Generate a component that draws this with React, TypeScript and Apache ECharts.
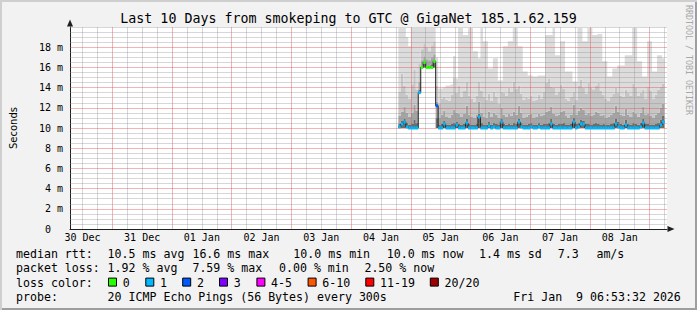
import React, { useEffect, useRef } from 'react';
import * as echarts from 'echarts';

const TITLE = 'Last 10 Days from smokeping to GTC @ GigaNet 185.1.62.159';
const AXIS_START_HOUR = 7; // hours after 30 Dec 00:00
const AXIS_END_HOUR = 247;
const DATA_START_HOUR = 139;
const DAY_LABELS = ['30 Dec', '31 Dec', '01 Jan', '02 Jan', '03 Jan', '04 Jan', '05 Jan', '06 Jan', '07 Jan', '08 Jan'];

const MEDIAN = [
  10.1, 10.4, 10.6, 10.1, 10.0, 10.0, 10.0, 10.0, 13.5, 16.0,
  16.5, 16.0, 16.0, 16.0, 16.6, 12.2, 10.0, 10.0, 10.4, 10.0,
  10.0, 10.0, 10.0, 10.3, 10.0, 10.0, 10.0, 10.5, 10.0, 10.0,
  10.0, 10.0, 11.1, 10.0, 10.0, 10.0, 10.2, 10.0, 10.1, 10.0,
  10.0, 10.6, 10.0, 10.0, 10.0, 10.0, 10.0, 10.0, 10.6, 10.1,
  10.0, 10.0, 10.0, 10.1, 10.0, 10.0, 10.1, 10.0, 10.0, 10.0,
  10.0, 10.4, 10.0, 10.0, 10.0, 10.0, 10.0, 10.0, 10.0, 10.0,
  10.6, 10.0, 10.1, 10.4, 10.4, 10.0, 10.0, 10.0, 10.0, 10.0,
  10.0, 10.0, 10.0, 10.0, 10.0, 10.0, 10.0, 10.4, 10.1, 10.0,
  10.0, 10.3, 10.0, 10.0, 10.0, 10.0, 10.0, 10.1, 10.5, 10.0,
  10.0, 10.0, 10.0, 10.0, 10.0, 10.3, 10.6,
];

const LOSS_BIN = [
  1, 1, 1, 1, 1, 1, 1, 1, 1, 0,
  0, 0, 0, 0, 0, 2, 1, 1, 1, 1,
  1, 1, 1, 1, 1, 1, 1, 1, 1, 1,
  1, 1, 1, 1, 1, 1, 1, 1, 1, 1,
  1, 1, 1, 1, 1, 1, 1, 1, 1, 1,
  1, 1, 1, 1, 1, 1, 1, 1, 1, 1,
  1, 1, 1, 1, 1, 1, 1, 1, 1, 1,
  1, 1, 1, 1, 1, 1, 1, 1, 1, 1,
  1, 1, 1, 1, 1, 1, 1, 1, 1, 1,
  1, 1, 1, 1, 1, 1, 1, 1, 1, 1,
  1, 1, 1, 1, 1, 1, 1,
];

const SMOKE_MIN = [
  10.0, 10.0, 10.0, 10.0, 10.0, 10.0, 10.0, 10.0, 13.5, 16.0,
  16.0, 16.0, 16.0, 16.0, 16.0, 10.0, 10.0, 10.0, 10.0, 10.0,
  10.0, 10.0, 10.0, 10.0, 10.0, 10.0, 10.0, 10.0, 10.0, 10.0,
  10.0, 10.0, 10.0, 10.0, 10.0, 10.0, 10.0, 10.0, 10.0, 10.0,
  10.0, 10.0, 10.0, 10.0, 10.0, 10.0, 10.0, 10.0, 10.0, 10.0,
  10.0, 10.0, 10.0, 10.0, 10.0, 10.0, 10.0, 10.0, 10.0, 10.0,
  10.0, 10.0, 10.0, 10.0, 10.0, 10.0, 10.0, 10.0, 10.0, 10.0,
  10.0, 10.0, 10.0, 10.0, 10.0, 10.0, 10.0, 10.0, 10.0, 10.0,
  10.0, 10.0, 10.0, 10.0, 10.0, 10.0, 10.0, 10.0, 10.0, 10.0,
  10.0, 10.0, 10.0, 10.0, 10.0, 10.0, 10.0, 10.0, 10.0, 10.0,
  10.0, 10.0, 10.0, 10.0, 10.0, 10.0, 10.0,
];

const SMOKE_DARK = [
  10.4, 10.7, 10.9, 10.5, 10.3, 10.4, 10.8, 10.5, 13.8, 16.2,
  16.4, 16.2, 16.2, 16.3, 16.5, 11.0, 10.3, 10.4, 10.7, 10.3,
  10.3, 10.4, 10.5, 10.6, 10.4, 10.3, 10.4, 10.9, 10.4, 10.3,
  10.3, 10.4, 11.4, 10.5, 10.3, 10.3, 10.6, 10.3, 10.5, 10.4,
  10.3, 10.9, 10.4, 10.3, 10.4, 10.3, 10.5, 10.4, 10.9, 10.5,
  10.3, 10.3, 10.4, 10.5, 10.3, 10.3, 10.5, 10.3, 10.4, 10.4,
  10.5, 10.9, 10.4, 10.3, 10.4, 10.4, 10.5, 10.3, 10.3, 10.4,
  11.0, 10.4, 10.5, 10.8, 10.7, 10.4, 10.4, 10.3, 10.4, 10.5,
  10.4, 10.3, 10.4, 10.3, 10.3, 10.4, 10.5, 10.9, 10.6, 10.4,
  10.3, 10.8, 10.4, 10.3, 10.5, 10.4, 10.3, 10.5, 10.9, 10.4,
  10.4, 10.3, 10.3, 10.4, 10.5, 10.8, 11.2,
];

const SMOKE_MID = [
  11.2, 11.6, 12.1, 11.5, 11.1, 11.5, 12.3, 11.7, 14.6, 16.7,
  17.1, 16.8, 16.7, 17.0, 17.3, 12.6, 11.0, 11.3, 11.7, 11.1,
  11.0, 11.3, 11.8, 11.5, 11.4, 11.1, 11.4, 12.2, 11.3, 11.1,
  11.0, 11.3, 12.6, 11.5, 11.1, 11.0, 11.6, 11.1, 11.5, 11.3,
  11.0, 12.0, 11.3, 11.1, 11.4, 11.2, 11.6, 11.3, 12.2, 11.5,
  11.0, 11.1, 11.3, 11.4, 11.0, 11.1, 11.4, 11.2, 11.3, 11.6,
  11.7, 12.1, 11.4, 11.2, 11.3, 11.6, 11.7, 11.2, 11.0, 11.3,
  12.3, 11.3, 11.7, 12.0, 11.8, 11.3, 11.5, 11.2, 11.3, 11.6,
  11.5, 11.2, 11.3, 11.0, 11.1, 11.3, 11.5, 12.2, 11.6, 11.3,
  11.2, 11.9, 11.3, 11.1, 11.6, 11.4, 11.1, 11.5, 12.1, 11.3,
  11.4, 11.2, 11.0, 11.3, 11.5, 12.0, 12.4,
];

const SMOKE_LIGHT = [
  13.6, 15.4, 14.2, 13.3, 12.9, 14.3, 15.8, 13.8, 16.4, 17.8,
  18.4, 18.0, 17.6, 18.2, 18.6, 14.2, 12.4, 12.9, 13.1, 12.8,
  12.7, 13.3, 15.0, 13.5, 14.2, 13.1, 13.7, 14.6, 13.2, 12.9,
  12.6, 13.2, 14.6, 13.7, 13.1, 12.8, 13.4, 12.7, 13.6, 13.1,
  12.4, 13.6, 13.5, 13.2, 14.0, 13.6, 14.6, 13.9, 14.2, 13.4,
  12.8, 13.1, 12.9, 13.2, 12.7, 12.8, 13.3, 12.9, 13.6, 14.5,
  14.9, 14.1, 14.0, 13.3, 13.6, 14.3, 13.9, 12.9, 12.7, 13.1,
  13.6, 12.8, 14.2, 14.8, 14.0, 13.4, 14.5, 14.0, 13.8, 14.2,
  14.5, 13.7, 13.3, 12.9, 12.7, 13.1, 13.4, 14.0, 13.5, 13.2,
  13.1, 13.8, 13.5, 13.2, 14.4, 14.0, 13.2, 13.5, 13.8, 12.9,
  14.1, 13.7, 12.9, 13.3, 13.8, 14.1, 14.4,
];

const SMOKE_MAX = [
  19.9, 19.9, 19.9, 19.0, 18.1, 19.9, 19.9, 19.9, 19.9, 19.9,
  19.9, 19.9, 19.9, 19.9, 19.9, 17.0, 13.9, 13.9, 14.0, 14.2,
  14.2, 14.3, 17.1, 14.9, 19.9, 19.9, 19.2, 19.2, 19.9, 19.9,
  17.6, 17.6, 16.9, 19.9, 18.6, 18.6, 15.9, 15.9, 16.9, 16.9,
  14.7, 14.7, 18.1, 18.1, 18.6, 18.6, 19.9, 19.9, 18.1, 18.1,
  15.6, 15.6, 15.2, 15.2, 15.1, 15.1, 15.2, 15.2, 15.2, 19.2,
  19.2, 19.2, 19.9, 17.2, 17.2, 18.6, 18.6, 15.6, 15.6, 15.6,
  14.6, 14.6, 19.9, 19.9, 18.6, 18.6, 19.9, 19.9, 19.2, 19.2,
  19.3, 19.3, 16.6, 16.6, 15.1, 15.1, 15.9, 15.9, 16.2, 16.2,
  16.2, 17.2, 17.2, 17.2, 19.9, 19.9, 16.6, 16.6, 15.1, 15.1,
  18.6, 18.6, 15.6, 15.6, 17.2, 17.2, 16.9,
];

const LOSS_COLORS = ['#26ff00', '#00b8ff', '#0059ff', '#7e00ff', '#ff00ff', '#ff5500', '#ff0000', '#a10000'];
const LOSS_LABELS = ['0', '1', '2', '3', '4-5', '6-10', '11-19', '20/20'];

const RTT_STATS = ['10.5 ms avg', '16.6 ms max', '10.0 ms min', '10.0 ms now', '1.4 ms sd', '7.3', 'am/s'];
const LOSS_STATS = ['1.92 % avg', '7.59 % max', '0.00 % min', '2.50 % now'];
const PROBE_TEXT = '20 ICMP Echo Pings (56 Bytes) every 300s';
const DATE_TEXT = 'Fri Jan  9 06:53:32 2026';

const MONO = '"DejaVu Sans Mono", monospace';

export default function App() {
  const ref = useRef<HTMLDivElement>(null);

  useEffect(() => {
    if (!ref.current) return;
    const chart = echarts.init(ref.current, undefined, { renderer: 'svg' });

    const cats: string[] = [];
    for (let h = AXIS_START_HOUR; h <= AXIS_END_HOUR; h++) cats.push(String(h));
    const pad = DATA_START_HOUR - AXIS_START_HOUR;
    const hourOf = (i: number) => i + AXIS_START_HOUR;
    const padSeries = (arr: number[]) => {
      const out: (number | null)[] = new Array(cats.length).fill(null);
      arr.forEach((v, i) => { out[pad + i] = v; });
      return out;
    };
    const diff = (a: number[], b: number[]) => a.map((v, i) => +(v - b[i]).toFixed(3));

    const smokeLayer = (data: (number | null)[], color: string) => ({
      type: 'line', data, stack: 'smoke', step: 'end', symbol: 'none', silent: true,
      lineStyle: { width: 0, opacity: 0 }, areaStyle: { color, opacity: 1 }, z: 1,
    });

    const MINOR = 'rgba(143,143,143,0.36)';
    const MAJOR = 'rgba(222,79,79,0.42)';

    // horizontal grid lines (markLine on the value axis)
    const hMinor: any[] = [];
    const hMajor: any[] = [];
    for (let k = 1; k <= 40; k++) {
      const v = k * 0.5;
      if (v % 2 === 0 && v < 20) hMajor.push({ yAxis: v });
      else hMinor.push({ yAxis: v });
    }
    const hGridSeries = (data: any[], color: string, z: number) => ({
      type: 'line', data: cats.map(() => null), symbol: 'none', silent: true, z,
      markLine: {
        silent: true, symbol: ['none', 'none'], animation: false, z,
        label: { show: false }, emphasis: { disabled: true },
        lineStyle: { color, width: 1, type: 'solid' },
        data,
      },
    });

    const rttX = [107.6, 192.4, 293.3, 386.7, 479, 557.8, 596.4];
    const lossX = [107.6, 192.4, 279, 364.4];
    const boxX = [108, 145.3, 182.2, 219, 256.4, 307.6, 365.3, 429.8];
    const rows = [254, 268.3, 282.6, 297];

    const txt = (text: string, x: number, y: number, size = 11.6) => ({
      type: 'text', x, y, silent: true,
      style: { text, font: `${size}px ${MONO}`, fill: '#000', verticalAlign: 'middle', align: 'left' },
    });

    const graphics: any[] = [];
    graphics.push(txt('median rtt:', 16, rows[0]));
    RTT_STATS.forEach((s, i) => graphics.push(txt(s, rttX[i], rows[0])));
    graphics.push(txt('packet loss:', 16, rows[1]));
    LOSS_STATS.forEach((s, i) => graphics.push(txt(s, lossX[i], rows[1])));
    graphics.push(txt('loss color:', 16, rows[2]));
    LOSS_LABELS.forEach((s, i) => {
      graphics.push({
        type: 'rect', silent: true,
        shape: { x: boxX[i] + 0.5, y: rows[2] - 4.5, width: 8, height: 8 },
        style: { fill: LOSS_COLORS[i], stroke: '#000', lineWidth: 1 },
      });
      graphics.push(txt(s, boxX[i] + 14.7, rows[2]));
    });
    graphics.push(txt('probe:', 16, rows[3]));
    graphics.push(txt(PROBE_TEXT, 107.6, rows[3]));
    graphics.push(txt(DATE_TEXT, 513.3, rows[3]));
    graphics.push({
      type: 'text', x: 688.5, y: 5, rotation: -Math.PI / 2, silent: true,
      style: { text: 'RRDTOOL / TOBI OETIKER', font: `8.3px ${MONO}`, fill: '#a8a8a8', verticalAlign: 'middle', align: 'left' },
    });

    const option: any = {
      animation: false,
      backgroundColor: 'transparent',
      title: {
        text: TITLE, left: 'center', top: 12, padding: 0,
        textStyle: { fontFamily: MONO, fontSize: 13.3, fontWeight: 'normal', color: '#000' },
      },
      grid: {
        left: 67, right: 30, top: 27, bottom: 81, show: true,
        backgroundColor: '#ffffff', borderWidth: 0,
      },
      xAxis: {
        type: 'category', data: cats, boundaryGap: false, z: 2,
        axisLine: {
          show: true, lineStyle: { color: '#1F1F1F', width: 1 },
          symbol: ['none', 'triangle'], symbolSize: [6, 7], symbolOffset: [0, 4],
        },
        axisTick: { show: false },
        axisLabel: {
          interval: (i: number) => hourOf(i) % 24 === 12,
          formatter: (v: string) => DAY_LABELS[(Number(v) - 12) / 24] ?? '',
          fontFamily: MONO, fontSize: 10, color: '#000', margin: 3,
        },
        // lines every 6 hours starting at 12:00 on 30 Dec: 12h, 18h, 00h (day boundary), 06h
        splitLine: {
          show: true,
          interval: (i: number) => hourOf(i) % 6 === 0,
          lineStyle: { color: [MINOR, MINOR, MAJOR, MINOR], width: 1 },
        },
      },
      yAxis: {
        type: 'value', min: 0, max: 20, interval: 2, z: 2,
        name: 'Seconds', nameLocation: 'middle', nameGap: 52, nameRotate: 90,
        nameTextStyle: { fontFamily: '"DejaVu Sans", sans-serif', fontSize: 10, color: '#000' },
        axisLine: {
          show: true, lineStyle: { color: '#1F1F1F', width: 1 },
          symbol: ['none', 'triangle'], symbolSize: [6, 7], symbolOffset: [0, 4],
        },
        axisTick: { show: false },
        axisLabel: {
          formatter: (v: number) => (v === 0 ? '0\u00a0\u00a0' : v === 20 ? '' : `${v} m`),
          fontFamily: MONO, fontSize: 10, color: '#000', margin: 7,
        },
        splitLine: { show: false },
      },
      series: [
        {
          type: 'line', data: padSeries(SMOKE_MIN), stack: 'smoke', step: 'end', symbol: 'none', silent: true,
          lineStyle: { width: 0, opacity: 0 }, z: 1,
        },
        smokeLayer(padSeries(diff(SMOKE_DARK, SMOKE_MIN)), '#6c6c6c'),
        smokeLayer(padSeries(diff(SMOKE_MID, SMOKE_DARK)), '#a4a4a4'),
        smokeLayer(padSeries(diff(SMOKE_LIGHT, SMOKE_MID)), '#c6c6c6'),
        smokeLayer(padSeries(diff(SMOKE_MAX, SMOKE_LIGHT)), '#dcdcdc'),
        hGridSeries(hMinor, MINOR, 3),
        hGridSeries(hMajor, MAJOR, 4),
        {
          type: 'line', data: padSeries(MEDIAN), step: 'end', symbol: 'none', silent: true,
          lineStyle: { color: '#202020', width: 1 }, z: 8,
        },
        {
          type: 'custom', silent: true, z: 9,
          encode: { x: 0, y: 1 },
          data: MEDIAN.map((v, i) => [pad + i, v, LOSS_BIN[i]]),
          renderItem: (_p: any, api: any) => {
            const idx = api.value(0);
            const v = api.value(1);
            const bin = api.value(2);
            const p0 = api.coord([idx, v]);
            const p1 = api.coord([idx + 1, v]);
            return {
              type: 'rect',
              shape: { x: p0[0], y: p0[1] - 1.5, width: p1[0] - p0[0], height: 3 },
              style: { fill: LOSS_COLORS[bin] },
            };
          },
        },
      ],
      graphic: graphics,
    };

    chart.setOption(option);
    return () => chart.dispose();
  }, []);

  return (
    <div style={{ position: 'fixed', left: 0, top: 0, width: 697, height: 310, background: '#F2F2F2' }}>
      <div ref={ref} style={{ position: 'absolute', left: 0, top: 0, width: 697, height: 310 }} />
      <div
        style={{
          position: 'absolute', left: 0, top: 0, width: 697, height: 310, pointerEvents: 'none',
          boxSizing: 'border-box',
          boxShadow: 'inset 2px 2px 0 #CFCFCF, inset -2px -2px 0 #9E9E9E',
        }}
      />
    </div>
  );
}
